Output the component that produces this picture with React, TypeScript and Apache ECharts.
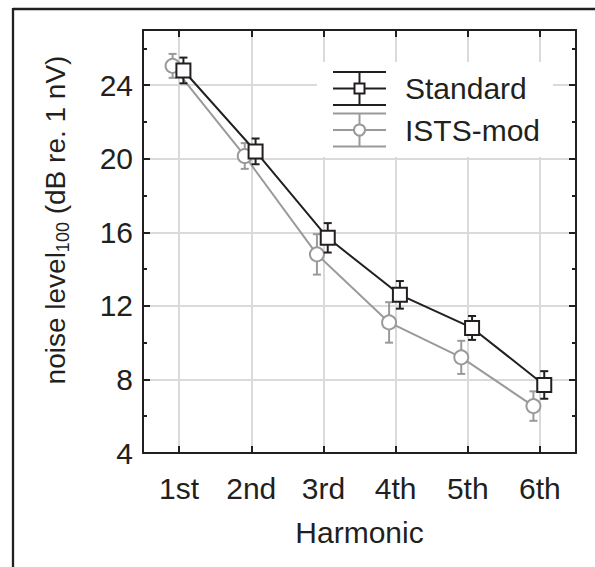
import React, { useEffect, useRef } from "react";
import * as echarts from "echarts";

const categories = ["1st", "2nd", "3rd", "4th", "5th", "6th"];
const standardMean = [24.8, 20.4, 15.7, 12.6, 10.8, 7.7];
const standardErr = [0.7, 0.7, 0.8, 0.75, 0.65, 0.75];
const istsMean = [25.05, 20.15, 14.8, 11.1, 9.2, 6.55];
const istsErr = [0.65, 0.7, 1.1, 1.1, 0.9, 0.8];
const seriesNames = ["Standard", "ISTS-mod"];

const K = "#231f20";
const G = "#9a9a9a";
const GRID = "#dadada";
const FONT = "'Liberation Sans', Arial, Helvetica, sans-serif";

const STD_OFF = 0.06;
const ISTS_OFF = -0.09;

function errorSeries(means: number[], errs: number[], off: number, color: string, z: number) {
  return {
    type: "custom",
    xAxisIndex: 0,
    yAxisIndex: 0,
    z,
    silent: true,
    data: means.map((m, i) => [i + 1 + off, m - errs[i], m + errs[i]]),
    renderItem: (params: any, api: any) => {
      const x = api.value(0);
      const lo = api.coord([x, api.value(1)]);
      const hi = api.coord([x, api.value(2)]);
      const hw = 4;
      const style = { stroke: color, lineWidth: 2 };
      return {
        type: "group",
        children: [
          { type: "line", shape: { x1: lo[0], y1: lo[1], x2: hi[0], y2: hi[1] }, style },
          { type: "line", shape: { x1: lo[0] - hw, y1: lo[1], x2: lo[0] + hw, y2: lo[1] }, style },
          { type: "line", shape: { x1: hi[0] - hw, y1: hi[1], x2: hi[0] + hw, y2: hi[1] }, style },
        ],
      };
    },
  };
}

function legendItem(y: number, color: string, symbol: "rect" | "circle", label: string) {
  const x1 = 333;
  const x2 = 386;
  const cx = 359.5;
  const h = 16.5;
  const ls = { stroke: color, lineWidth: 2 };
  const z = 60;
  const marker =
    symbol === "rect"
      ? { type: "rect", z: z + 1, shape: { x: cx - 5, y: y - 5, width: 10, height: 10 }, style: { fill: "#fff", stroke: color, lineWidth: 2 } }
      : { type: "circle", z: z + 1, shape: { cx, cy: y, r: 5.5 }, style: { fill: "#fff", stroke: color, lineWidth: 2 } };
  return [
    { type: "line", z, shape: { x1, y1: y, x2, y2: y }, style: ls },
    { type: "line", z, shape: { x1, y1: y - h, x2, y2: y - h }, style: ls },
    { type: "line", z, shape: { x1, y1: y + h, x2, y2: y + h }, style: ls },
    { type: "line", z, shape: { x1: cx, y1: y - h, x2: cx, y2: y + h }, style: ls },
    marker,
    {
      type: "text",
      z,
      x: 405,
      y,
      style: { text: label, fill: K, font: `30px ${FONT}`, align: "left", verticalAlign: "middle" },
    },
  ];
}

export default function App() {
  const ref = useRef<HTMLDivElement>(null);
  useEffect(() => {
    if (!ref.current) return;
    const chart = echarts.init(ref.current, undefined, { renderer: "svg" });
    const yCommon = { type: "value", min: 4, max: 27 };
    const xCommon = { type: "value", min: 0.5, max: 6.5, splitNumber: 6 };
    const option: any = {
      animation: false,
      backgroundColor: "#fff",
      grid: { left: 143, right: 19, top: 30, bottom: 114 },
      xAxis: [
        {
          ...xCommon,
          position: "bottom",
          name: "Harmonic",
          nameLocation: "middle",
          nameGap: 64,
          nameTextStyle: { fontSize: 30, color: K, fontFamily: FONT },
          axisLine: { show: true, onZero: false, lineStyle: { color: K, width: 2 } },
          axisTick: { show: true, inside: true, length: 7, lineStyle: { color: K, width: 2 } },
          axisLabel: {
            fontSize: 30,
            color: K,
            fontFamily: FONT,
            margin: 20,
            formatter: (v: number) => (Number.isInteger(v) ? categories[v - 1] ?? "" : ""),
          },
          splitLine: { show: true, lineStyle: { color: GRID, width: 2 } },
        },
        {
          ...xCommon,
          position: "top",
          axisLine: { show: true, onZero: false, lineStyle: { color: K, width: 2 } },
          axisTick: { show: true, inside: true, length: 7, lineStyle: { color: K, width: 2 } },
          axisLabel: { show: false },
          splitLine: { show: false },
        },
      ],
      yAxis: [
        {
          ...yCommon,
          interval: 4,
          position: "left",
          axisLine: { show: true, onZero: false, lineStyle: { color: K, width: 2 } },
          axisTick: { show: true, inside: true, length: 7, lineStyle: { color: K, width: 2 } },
          axisLabel: {
            fontSize: 30,
            color: K,
            fontFamily: FONT,
            margin: 10,
            formatter: (v: number) => (v % 4 === 0 ? String(v) : ""),
          },
          splitLine: { show: true, lineStyle: { color: GRID, width: 2 } },
        },
        {
          ...yCommon,
          interval: 2,
          position: "left",
          axisLine: { show: false, onZero: false },
          axisTick: { show: true, inside: true, length: 4, lineStyle: { color: K, width: 2 } },
          axisLabel: { show: false },
          splitLine: { show: false },
        },
        {
          ...yCommon,
          interval: 4,
          position: "right",
          axisLine: { show: true, onZero: false, lineStyle: { color: K, width: 2 } },
          axisTick: { show: true, inside: true, length: 7, lineStyle: { color: K, width: 2 } },
          axisLabel: { show: false },
          splitLine: { show: false },
        },
        {
          ...yCommon,
          interval: 2,
          position: "right",
          axisLine: { show: false, onZero: false },
          axisTick: { show: true, inside: true, length: 4, lineStyle: { color: K, width: 2 } },
          axisLabel: { show: false },
          splitLine: { show: false },
        },
      ],
      series: [
        errorSeries(istsMean, istsErr, ISTS_OFF, G, 2),
        {
          name: seriesNames[1],
          type: "line",
          z: 3,
          xAxisIndex: 0,
          yAxisIndex: 0,
          data: istsMean.map((m, i) => [i + 1 + ISTS_OFF, m]),
          symbol: "circle",
          symbolSize: 14,
          lineStyle: { color: G, width: 2 },
          itemStyle: { color: "#fff", borderColor: G, borderWidth: 2 },
        },
        errorSeries(standardMean, standardErr, STD_OFF, K, 4),
        {
          name: seriesNames[0],
          type: "line",
          z: 5,
          xAxisIndex: 0,
          yAxisIndex: 0,
          data: standardMean.map((m, i) => [i + 1 + STD_OFF, m]),
          symbol: "rect",
          symbolSize: 14,
          lineStyle: { color: K, width: 2 },
          itemStyle: { color: "#fff", borderColor: K, borderWidth: 2 },
        },
      ],
      graphic: [
        { type: "line", z: 100, shape: { x1: 13, y1: 9, x2: 595, y2: 9 }, style: { stroke: K, lineWidth: 2.3 } },
        { type: "line", z: 100, shape: { x1: 13, y1: 8, x2: 13, y2: 567 }, style: { stroke: K, lineWidth: 2.3 } },
        { type: "rect", z: 50, shape: { x: 317, y: 62, width: 236, height: 95 }, style: { fill: "#fff" } },
        ...legendItem(88.5, K, "rect", seriesNames[0]),
        ...legendItem(130, G, "circle", seriesNames[1]),
        {
          type: "text",
          z: 100,
          x: 55,
          y: 220,
          rotation: Math.PI / 2,
          style: {
            text: "{a|noise level}{b|100}{a| (dB re. 1 nV)}",
            align: "center",
            verticalAlign: "middle",
            fill: K,
            rich: {
              a: { fontSize: 28, fontFamily: FONT, fill: K, lineHeight: 34, verticalAlign: "middle" },
              b: { fontSize: 18, fontFamily: FONT, fill: K, lineHeight: 18, verticalAlign: "bottom" },
            },
          },
        },
      ],
    };
    chart.setOption(option);
    return () => chart.dispose();
  }, []);
  return (
    <div
      ref={ref}
      style={{ position: "fixed", left: 0, top: 0, width: 595, height: 567, background: "#fff" }}
    />
  );
}
